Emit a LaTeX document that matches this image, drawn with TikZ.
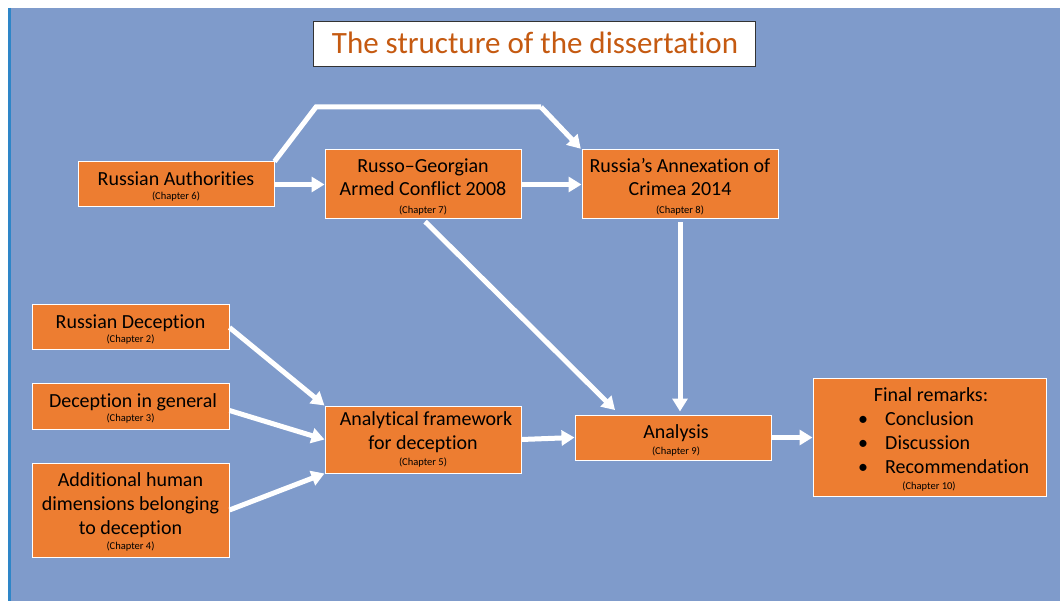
\documentclass[tikz,border=0pt]{standalone}
\usepackage{fontspec}
\setmainfont{Carlito}[Ligatures={NoCommon,TeX}]
\usetikzlibrary{arrows.meta,calc}
\definecolor{bgblue}{HTML}{7F9BCB}
\definecolor{edgeblue}{HTML}{2E86C8}
\definecolor{boxorange}{HTML}{ED7D31}
\definecolor{titleorange}{HTML}{C55A11}
\definecolor{titleborder}{HTML}{333333}
\tikzset{
  box/.style={draw=white, line width=1pt, fill=boxorange, inner sep=0pt},
  maintxt/.style={font=\fontsize{20}{24}\selectfont, text=black, inner sep=0pt, text height=13.5pt, text depth=4.5pt, yshift=-2pt},
  chtxt/.style={font=\fontsize{10.5}{12}\selectfont, text=black, inner sep=0pt, text height=7pt, text depth=2.5pt, yshift=-1pt},
  flow/.style={draw=white, line width=5pt, -{Triangle[length=13pt,width=15pt]}},
}
\begin{document}
\begin{tikzpicture}[x=1pt,y=-1pt]
\useasboundingbox (0,0) rectangle (1060,601);
\fill[white] (0,0) rectangle (1060,601);
\fill[bgblue] (8,8) rectangle (1060,601);
\draw[edgeblue, line width=2.5pt] (9.25,8) -- (9.25,601);

% title
\node[draw=titleborder, line width=1pt, fill=white, minimum width=442pt, minimum height=45pt, inner sep=0pt] (title) at (534,44.5) {};
\node[font=\fontsize{31}{36}\selectfont, text=titleorange, inner sep=0pt, text height=22pt, text depth=7pt] (titletxt) at (535,46.5) {The structure of the dissertation};

% boxes
\node[box, minimum width=196pt, minimum height=45pt] (ra) at (176,184.5) {};
\node[box, minimum width=196pt, minimum height=69pt] (rg) at (423,184.5) {};
\node[box, minimum width=196pt, minimum height=69pt] (ax) at (680,184.5) {};
\node[box, minimum width=197pt, minimum height=45pt] (rd) at (130.5,327.5) {};
\node[box, minimum width=197pt, minimum height=45pt] (dg) at (130.5,406.5) {};
\node[box, minimum width=197pt, minimum height=94pt] (ah) at (130.5,510) {};
\node[box, minimum width=196pt, minimum height=67pt] (af) at (423,439.5) {};
\node[box, minimum width=196pt, minimum height=45pt] (an) at (673,437.5) {};
\node[box, minimum width=233pt, minimum height=117pt] (fr) at (929.5,437.5) {};

% texts
\node[maintxt] (ra1) at (176,179) {Russian Authorities};
\node[chtxt] (ra2) at (176,196) {(Chapter 6)};
\node[maintxt] (rg1) at (423,166) {Russo–Georgian};
\node[maintxt] (rg2) at (423,189) {Armed Conflict 2008};
\node[chtxt] (rg3) at (423,210) {(Chapter 7)};
\node[maintxt] (ax1) at (680,166) {Russia’s Annexation of};
\node[maintxt] (ax2) at (680,189) {Crimea 2014};
\node[chtxt] (ax3) at (680,210) {(Chapter 8)};
\node[maintxt] (rd1) at (130.5,322) {Russian Deception};
\node[chtxt] (rd2) at (130.5,339) {(Chapter 2)};
\node[maintxt] (dg1) at (133,401) {Deception in general};
\node[chtxt] (dg2) at (130.5,418) {(Chapter 3)};
\node[maintxt] (ah1) at (130.5,480) {Additional human};
\node[maintxt] (ah2) at (130.5,504) {dimensions belonging};
\node[maintxt] (ah3) at (130.5,528) {to deception};
\node[chtxt] (ah4) at (130.5,546) {(Chapter 4)};
\node[maintxt] (af1) at (426,419) {Analytical framework};
\node[maintxt] (af2) at (423,443) {for deception};
\node[chtxt] (af3) at (423,462) {(Chapter 5)};
\node[maintxt] (an1) at (676,432) {Analysis};
\node[chtxt] (an2) at (676,451) {(Chapter 9)};
\node[maintxt] (fr1) at (931,395) {Final remarks:};
\node[maintxt] (b1) at (863,419) {•};
\node[maintxt] (b2) at (863,443) {•};
\node[maintxt] (b3) at (863,467) {•};
\node[maintxt, anchor=west] (fr2) at (885,419) {Conclusion};
\node[maintxt, anchor=west] (fr3) at (885,443) {Discussion};
\node[maintxt, anchor=west] (fr4) at (885,467) {Recommendation};
\node[chtxt] (fr5) at (929,486) {(Chapter 10)};

% connectors
\coordinate (k1) at (316,107);
\coordinate (k2) at (541,107);
\coordinate (anin) at ($(an.north west)+(42,-3)$);
\draw[flow] (ra.east) -- (rg.west);
\draw[flow] (rg.east) -- (ax.west);
\draw[flow, -] (ra.north east) -- (k1) -- (k2);
\draw[flow, shorten >=1pt] (k2) -- (ax.north west);
\draw[flow, shorten <=3pt, shorten >=2pt] (rg.south) -- (anin);
\draw[flow, shorten <=3pt, shorten >=3pt] (ax.south) -- (ax.south |- an.north);
\draw[flow] (rd.east) -- (af.north west);
\draw[flow] ($(dg.east)+(0,4)$) -- (af.west);
\draw[flow] (ah.east) -- (af.south west);
\draw[flow] (af.east) -- (an.west);
\draw[flow] (an.east) -- (fr.west);
\end{tikzpicture}
\end{document}
